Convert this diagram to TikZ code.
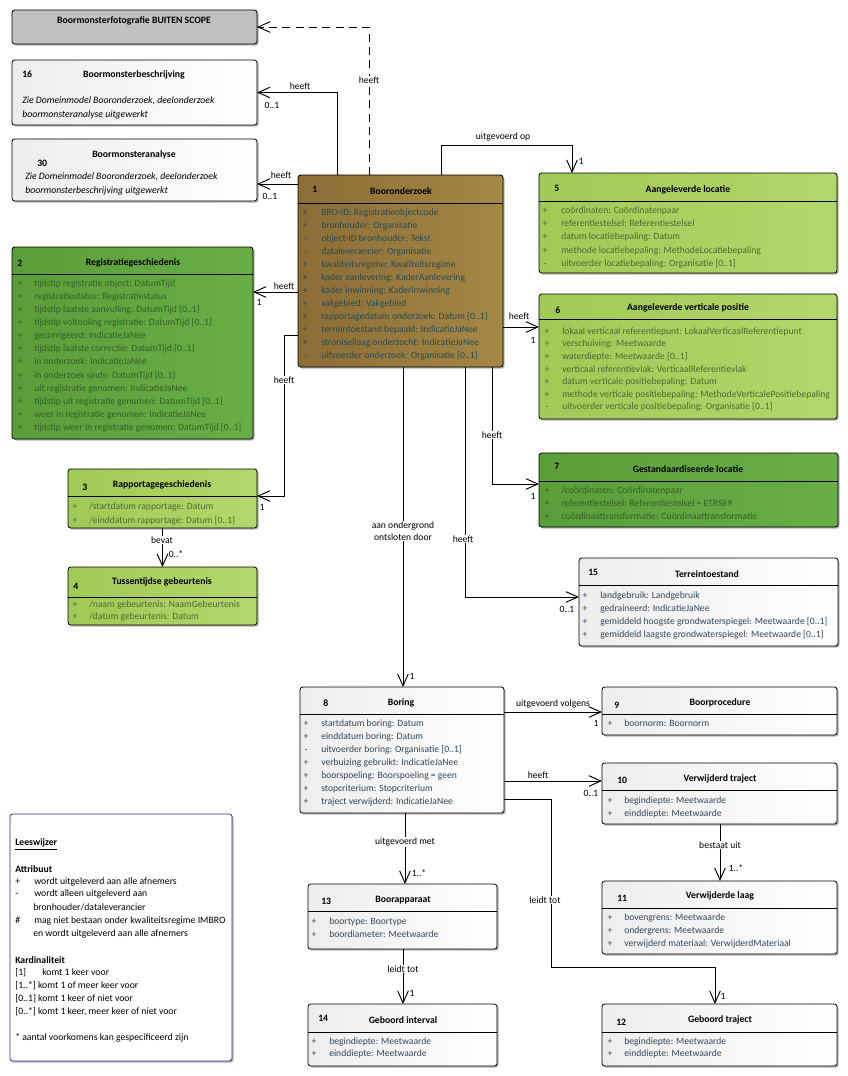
\documentclass[tikz,border=0pt]{standalone}
\usepackage{fontspec}
\setmainfont{Carlito}
\usetikzlibrary{arrows.meta,shadows}
\definecolor{brownL}{HTML}{8B6D36}
\definecolor{brownR}{HTML}{A58845}
\definecolor{greenL}{HTML}{5A9E3A}
\definecolor{greenR}{HTML}{68AE45}
\definecolor{ygL}{HTML}{A0C955}
\definecolor{ygR}{HTML}{B3D76C}
\definecolor{whL}{HTML}{EDEDED}
\definecolor{boxgray}{HTML}{C0C0C0}
\definecolor{legblue}{HTML}{2A2A9C}
\definecolor{tBrown}{HTML}{2A4A55}
\definecolor{tGreen}{HTML}{34602A}
\definecolor{tYG}{HTML}{4A6A33}
\definecolor{tWhite}{HTML}{34475A}
\newcommand\attrlist[7]{%
  \foreach [count=\i] \sg/\tx in {#7}{%
    \node[attr,anchor=center,text=#6] (#1s\i) at (#2,{#4+(\i-1)*#5}) {\sg};
    \node[attr,text=#6] (#1t\i) at (#3,{#4+(\i-1)*#5}) {\tx};
  }}
\begin{document}
\begin{tikzpicture}[x=0.75pt,y=-0.75pt,
  cbox/.style n args={2}{draw=black, line width=0.6pt, rounded corners=2pt, anchor=north west,
    inner sep=0pt, outer sep=0pt, minimum width=#1*0.75pt, minimum height=#2*0.75pt,
    drop shadow={shadow xshift=1.2pt, shadow yshift=-1.2pt, opacity=0.3, fill=black}},
  brownbox/.style={left color=brownL, right color=brownR},
  greenbox/.style={left color=greenL, right color=greenR},
  ygbox/.style={left color=ygL, right color=ygR},
  whitebox/.style={left color=whL, right color=white},
  hdr/.style={draw=black, line width=0.6pt},
  title/.style={font=\bfseries\fontsize{7.3}{9}\selectfont, inner sep=0pt},
  num/.style={font=\bfseries\fontsize{7.3}{9}\selectfont, inner sep=0pt, anchor=west},
  attr/.style={font=\fontsize{7.2}{9}\selectfont, inner sep=0pt, anchor=west, text height=5pt, text depth=1.5pt},
  note/.style={font=\itshape\fontsize{7.3}{9}\selectfont, inner sep=0pt, anchor=west, text height=5pt, text depth=1.5pt},
  leg/.style={font=\fontsize{7.3}{9}\selectfont, inner sep=0pt, anchor=west, text height=5pt, text depth=1.5pt},
  lbl/.style={font=\fontsize{7.2}{9}\selectfont, inner sep=0.8pt},
  onl/.style={fill=white},
  assoc/.style={draw=black, line width=0.7pt, -{Straight Barb[length=9pt,width=8pt,line width=0.7pt]}}
]
\useasboundingbox (0,0) rectangle (848,1076);
\fill[white] (0,0) rectangle (848,1076);

% ---------- boxes ----------
\node[cbox={245}{34}, fill=boxgray] (b0) at (12,10) {};
\node[cbox={245}{65}, whitebox] (b16) at (12,60) {};
\node[cbox={245}{62}, whitebox] (b30) at (12,139) {};
\node[cbox={205}{192}, brownbox] (b1) at (298,175) {};
\node[cbox={241}{192}, greenbox] (b2) at (12,247) {};
\node[cbox={189}{59}, ygbox] (b3) at (68,469) {};
\node[cbox={189}{58}, ygbox] (b4) at (68,567) {};
\node[cbox={298}{100}, ygbox] (b5) at (539,173) {};
\node[cbox={298}{125}, ygbox] (b6) at (539,294) {};
\node[cbox={299}{74}, greenbox] (b7) at (539,453) {};
\node[cbox={259}{88}, whitebox] (b15) at (579,558) {};
\node[cbox={204}{126}, whitebox] (b8) at (300,687) {};
\node[cbox={235}{48}, whitebox] (b9) at (602,687) {};
\node[cbox={235}{61}, whitebox] (b10) at (602,763) {};
\node[cbox={235}{73}, whitebox] (b11) at (602,881) {};
\node[cbox={189}{65}, whitebox] (b13) at (308,884) {};
\node[cbox={189}{62}, whitebox] (b14) at (308,1004) {};
\node[cbox={235}{62}, whitebox] (b12) at (602,1004) {};
\node[cbox={222}{247}, draw=legblue, fill=white] (lw) at (10,814) {};

% header lines
\foreach \b/\y in {b1/203,b2/274,b3/496,b4/597,b5/201,b6/319,b7/481,b15/585,b8/714,b9/714,b10/790,b11/908,b13/911,b14/1032,b12/1032}
  \draw[hdr] (\b.west |- 0,\y) -- (\b.east |- 0,\y);

% ---------- titles ----------
\node[title] (b0t) at (134,21) {Boormonsterfotografie BUITEN SCOPE};
\node[num] (b16n) at (22,74) {16};
\node[title] (b16t) at (134,75) {Boormonsterbeschrijving};
\node[note] (b16a) at (22,101) {Zie Domeinmodel Booronderzoek, deelonderzoek};
\node[note] (b16b) at (22,115) {boormonsteranalyse uitgewerkt};
\node[title] (b30t) at (134,155) {Boormonsteranalyse};
\node[num] (b30n) at (37,163) {30};
\node[note] (b30a) at (25,177) {Zie Domeinmodel Booronderzoek, deelonderzoek};
\node[note] (b30b) at (25,191) {boormonsterbeschrijving uitgewerkt};

\node[num] (b1n) at (312,189) {1};
\node[title] (b1t) at (401,191) {Booronderzoek};
\node[num] (b2n) at (17,263) {2};
\node[title] (b2t) at (133,263) {Registratiegeschiedenis};
\node[num] (b3n) at (82,487) {3};
\node[title] (b3t) at (162,485) {Rapportagegeschiedenis};
\node[num] (b4n) at (73,586) {4};
\node[title] (b4t) at (162,582) {Tussentijdse gebeurtenis};
\node[num] (b5n) at (554,188) {5};
\node[title] (b5t) at (688,190) {Aangeleverde locatie};
\node[num] (b6n) at (555,310) {6};
\node[title] (b6t) at (688,308) {Aangeleverde verticale positie};
\node[num] (b7n) at (554,466) {7};
\node[title] (b7t) at (688,469) {Gestandaardiseerde locatie};
\node[num] (b15n) at (588,572) {15};
\node[title] (b15t) at (707,574) {Terreintoestand};
\node[num] (b8n) at (323,703) {8};
\node[title] (b8t) at (401,703) {Boring};
\node[num] (b9n) at (614,705) {9};
\node[title] (b9t) at (720,703) {Boorprocedure};
\node[num] (b10n) at (617,780) {10};
\node[title] (b10t) at (720,779) {Verwijderd traject};
\node[num] (b11n) at (617,898) {11};
\node[title] (b11t) at (720,896) {Verwijderde laag};
\node[num] (b13n) at (321,901) {13};
\node[title] (b13t) at (403,900) {Boorapparaat};
\node[num] (b14n) at (318,1018) {14};
\node[title] (b14t) at (403,1020) {Geboord interval};
\node[num] (b12n) at (616,1022) {12};
\node[title] (b12t) at (720,1020) {Geboord traject};

% ---------- attributes ----------
\attrlist{a1}{305}{321}{213}{13}{tBrown}{{+}/{BRO-ID: Registratieobjectcode},{+}/{bronhouder: Organisatie},{-}/{object-ID bronhouder: Tekst},{-}/{dataleverancier: Organisatie},{+}/{kwaliteitsregime: Kwaliteitsregime},{+}/{kader aanlevering: KaderAanlevering},{+}/{kader inwinning: KaderInwinning},{+}/{vakgebied: Vakgebied},{+}/{rapportagedatum onderzoek: Datum [0..1]},{+}/{terreintoestand bepaald: IndicatieJaNee},{+}/{strooisellaag onderzocht: IndicatieJaNee},{-}/{uitvoerder onderzoek: Organisatie [0..1]}}
\attrlist{a2}{20}{34}{284}{13.1}{tGreen}{{+}/{tijdstip registratie object: DatumTijd},{+}/{registratiestatus: Registratiestatus},{+}/{tijdstip laatste aanvulling: DatumTijd [0..1]},{+}/{tijdstip voltooiing registratie: DatumTijd [0..1]},{+}/{gecorrigeerd: IndicatieJaNee},{+}/{tijdstip laatste correctie: DatumTijd [0..1]},{+}/{in onderzoek: IndicatieJaNee},{+}/{in onderzoek sinds: DatumTijd [0..1]},{+}/{uit registratie genomen: IndicatieJaNee},{+}/{tijdstip uit registratie genomen: DatumTijd [0..1]},{+}/{weer in registratie genomen: IndicatieJaNee},{+}/{tijdstip weer in registratie genomen: DatumTijd [0..1]}}
\attrlist{a3}{75}{89}{507}{14}{tYG}{{+}/{/startdatum rapportage: Datum},{+}/{/einddatum rapportage: Datum [0..1]}}
\attrlist{a4}{75}{89}{605}{12}{tYG}{{+}/{/naam gebeurtenis: NaamGebeurtenis},{+}/{/datum gebeurtenis: Datum}}
\attrlist{a5}{545}{561}{211}{13.3}{tYG}{{+}/{coördinaten: Coördinatenpaar},{+}/{referentiestelsel: Referentiestelsel},{+}/{datum locatiebepaling: Datum},{+}/{methode locatiebepaling: MethodeLocatiebepaling},{-}/{uitvoerder locatiebepaling: Organisatie [0..1]}}
\attrlist{a6}{547}{562}{332}{12.6}{tYG}{{+}/{lokaal verticaal referentiepunt: LokaalVerticaalReferentiepunt},{+}/{verschuiving: Meetwaarde},{+}/{waterdiepte: Meetwaarde [0..1]},{+}/{verticaal referentievlak: VerticaalReferentievlak},{+}/{datum verticale positiebepaling: Datum},{+}/{methode verticale positiebepaling: MethodeVerticalePositiebepaling},{-}/{uitvoerder verticale positiebepaling: Organisatie [0..1]}}
\attrlist{a7}{547}{561}{491}{13}{tGreen}{{+}/{/coördinaten: Coördinatenpaar},{+}/{referentiestelsel: Referentiestelsel = ETRS89},{+}/{coördinaattransformatie: Coördinaattransformatie}}
\attrlist{a15}{585}{600}{596}{13}{tWhite}{{+}/{landgebruik: Landgebruik},{+}/{gedraineerd: IndicatieJaNee},{+}/{gemiddeld hoogste grondwaterspiegel: Meetwaarde [0..1]},{+}/{gemiddeld laagste grondwaterspiegel: Meetwaarde [0..1]}}
\attrlist{a8}{306}{321}{724}{13.1}{tWhite}{{+}/{startdatum boring: Datum},{+}/{einddatum boring: Datum},{-}/{uitvoerder boring: Organisatie [0..1]},{+}/{verbuizing gebruikt: IndicatieJaNee},{+}/{boorspoeling: Boorspoeling = geen},{+}/{stopcriterium: Stopcriterium},{+}/{traject verwijderd: IndicatieJaNee}}
\attrlist{a9}{610}{624}{724}{13}{tWhite}{{+}/{boornorm: Boornorm}}
\attrlist{a10}{610}{624}{801}{13}{tWhite}{{+}/{begindiepte: Meetwaarde},{+}/{einddiepte: Meetwaarde}}
\attrlist{a11}{610}{624}{918}{13}{tWhite}{{+}/{bovengrens: Meetwaarde},{+}/{ondergrens: Meetwaarde},{+}/{verwijderd materiaal: VerwijderdMateriaal}}
\attrlist{a13}{314}{329}{922}{13}{tWhite}{{+}/{boortype: Boortype},{+}/{boordiameter: Meetwaarde}}
\attrlist{a14}{314}{329}{1042}{12.5}{tWhite}{{+}/{begindiepte: Meetwaarde},{+}/{einddiepte: Meetwaarde}}
\attrlist{a12}{610}{624}{1042}{12.5}{tWhite}{{+}/{begindiepte: Meetwaarde},{+}/{einddiepte: Meetwaarde}}

% ---------- legend ----------
\node[leg] (lw1) at (15,843) {\underline{\textbf{Leeswijzer}}};
\node[leg] (lw2) at (15,870) {\textbf{Attribuut}};
\node[leg] (lw3s) at (15,882) {+};
\node[leg] (lw3) at (34,882) {wordt uitgeleverd aan alle afnemers};
\node[leg] (lw4s) at (15,894) {-};
\node[leg] (lw4) at (34,894) {wordt alleen uitgeleverd aan};
\node[leg] (lw5) at (33,908) {bronhouder/dataleverancier};
\node[leg] (lw6s) at (15,921) {\#};
\node[leg] (lw6) at (34,921) {mag niet bestaan onder kwaliteitsregime IMBRO};
\node[leg] (lw7) at (33,934) {en wordt uitgeleverd aan alle afnemers};
\node[leg] (lw8) at (15,961) {\textbf{Kardinaliteit}};
\node[leg] (lw9s) at (15,973) {[1]};
\node[leg] (lw9) at (42,973) {komt 1 keer voor};
\node[leg] (lw10) at (15,986) {[1..*] komt 1 of meer keer voor};
\node[leg] (lw11) at (15,999) {[0..1] komt 1 keer of niet voor};
\node[leg] (lw12) at (15,1012) {[0..*] komt 1 keer, meer keer of niet voor};
\node[leg] (lw13) at (15,1038) {* aantal voorkomens kan gespecificeerd zijn};

% ---------- connectors ----------
\draw[assoc, dash pattern=on 6pt off 4pt] (b1.north -| 369,0) |- (b0.east);
\node[lbl,onl] (c1l) at (369,80) {heeft};

\draw[assoc] (b1.north -| 337,0) |- (b16.east);
\node[lbl] (c2l) at (300,86) {heeft};
\node[lbl] (c2m) at (272,105) {0..1};

\draw[assoc] (b1.west |- 0,184) -- (b30.east |- 0,184);
\node[lbl] (c3l) at (281,175) {heeft};
\node[lbl] (c3m) at (270,196) {0..1};

\draw[assoc] (b1.west |- 0,292) -- (b2.east |- 0,292);
\node[lbl] (c4l) at (284,286) {heeft};
\node[lbl] (c4m) at (259,302) {1};

\draw[assoc] (b1.west |- 0,335) -| (284,496) -- (b3.east |- 0,496);
\node[lbl,onl] (c5l) at (284,380) {heeft};
\node[lbl] (c5m) at (262,507) {1};

\draw[assoc] (b3.south) -- (b4.north);
\node[lbl,onl] (c6l) at (162,540) {bevat};
\node[lbl] (c6m) at (176,554) {0..*};

\draw[assoc] (b1.north -| 441,0) -- (441,145) -| (b5.north -| 572,0);
\node[lbl] (c7l) at (503,137) {uitgevoerd op};
\node[lbl] (c7m) at (581,161) {1};

\draw[assoc] (b1.east |- 0,327) -- (b6.west |- 0,327);
\node[lbl] (c8l) at (519,316) {heeft};
\node[lbl] (c8m) at (533,340) {1};

\draw[assoc] (b1.south -| 492,0) |- (b7.west |- 0,484);
\node[lbl,onl] (c9l) at (492,435) {heeft};
\node[lbl] (c9m) at (533,496) {1};

\draw[assoc] (b1.south -| 465,0) |- (b15.west |- 0,597);
\node[lbl,onl] (c10l) at (463,539) {heeft};
\node[lbl] (c10m) at (567,609) {0..1};

\draw[assoc] (b1.south -| 403,0) -- (b8.north -| 403,0);
\node[lbl,onl,align=center] (c11l) at (403,531) {aan ondergrond\\ontsloten door};
\node[lbl] (c11m) at (412,676) {1};

\draw[assoc] (b8.east |- 0,712) -- (b9.west |- 0,712);
\node[lbl] (c12l) at (553,704) {uitgevoerd volgens};
\node[lbl] (c12m) at (596,723) {1};

\draw[assoc] (b8.east |- 0,781) -- (b10.west |- 0,781);
\node[lbl] (c13l) at (538,775) {heeft};
\node[lbl] (c13m) at (591,793) {0..1};

\draw[assoc] (b8.east |- 0,799) -| (551,967) -| (b12.north -| 715,0);
\node[lbl,onl] (c14l) at (545,900) {leidt tot};
\node[lbl] (c14m) at (723,996) {1};

\draw[assoc] (b8.south -| 405,0) -- (b13.north -| 405,0);
\node[lbl,onl] (c15l) at (405,842) {uitgevoerd met};
\node[lbl] (c15m) at (419,873) {1..*};

\draw[assoc] (b13.south -| 403,0) -- (b14.north -| 403,0);
\node[lbl,onl] (c16l) at (403,969) {leidt tot};
\node[lbl] (c16m) at (412,993) {1};

\draw[assoc] (b10.south -| 720,0) -- (b11.north -| 720,0);
\node[lbl,onl] (c17l) at (720,845) {bestaat uit};
\node[lbl] (c17m) at (736,868) {1..*};
\end{tikzpicture}
\end{document}
